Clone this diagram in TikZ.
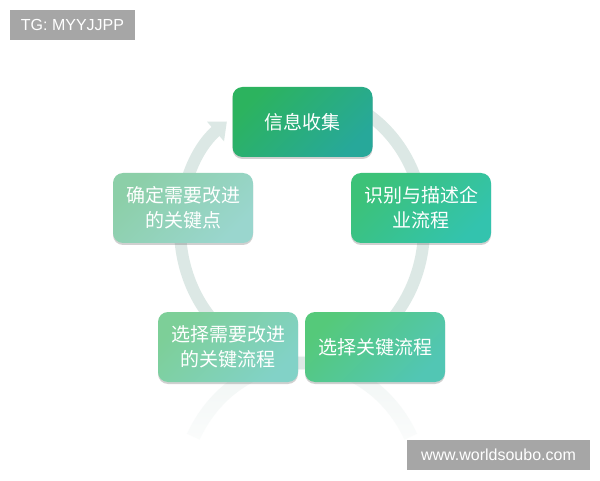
\documentclass[tikz,border=0pt]{standalone}
\usepackage{fontspec}
\setmainfont{Liberation Sans}
\newfontfamily\cjk{Noto Sans CJK SC}
\usetikzlibrary{arrows.meta,shadows,fadings}
\definecolor{ringc}{HTML}{DCE8E5}
\definecolor{wmgray}{HTML}{A6A6A6}
\definecolor{aA}{HTML}{2CB35E}\definecolor{aB}{HTML}{27A89A}
\definecolor{bA}{HTML}{3CC278}\definecolor{bB}{HTML}{33C3AE}
\definecolor{cA}{HTML}{55C97A}\definecolor{cB}{HTML}{52C6B4}
\definecolor{dA}{HTML}{7DCF98}\definecolor{dB}{HTML}{82D2C7}
\definecolor{eA}{HTML}{8CCFA8}\definecolor{eB}{HTML}{9AD6CE}
\tikzfading[name=reflfade, top color=transparent!50, bottom color=transparent!90]
\begin{document}
\begin{tikzpicture}[x=1pt,y=1pt,
  stepbox/.style={rounded corners=10pt, minimum width=140pt, minimum height=70pt,
    inner sep=0pt, text=white, font=\cjk\fontsize{19}{25}\selectfont, align=center,
    drop shadow={shadow xshift=0pt, shadow yshift=-2pt, opacity=0.3, fill=black!60}},
  ring/.style={draw=ringc, line width=12pt},
  wm/.style={fill=wmgray, text=white, font=\fontsize{16}{19}\selectfont, inner sep=0pt, text depth=0pt}]
\useasboundingbox (0,0) rectangle (600,480);
\fill[white] (0,0) rectangle (600,480);

% ring
\coordinate (ringstart) at (280.8,384.9);
\draw[ring, -{Triangle[width=25pt,length=15pt]}] (ringstart)
  arc[start angle=100, end angle=-232, x radius=122, y radius=135];
% reflection
\coordinate (reflstart) at (193.3,43.3);
\draw[ring, line width=14pt, path fading=reflfade] (reflstart)
  arc[start angle=153, end angle=27, x radius=122, y radius=135];

% boxes
\node[stepbox, top color=aA, bottom color=aB, shading angle=45] (b1) at (302.5,358) {信息收集};
\node[stepbox, top color=bA, bottom color=bB, shading angle=45] (b2) at (421,272) {识别与描述企\\业流程};
\node[stepbox, top color=cA, bottom color=cB, shading angle=45] (b3) at (375,133) {选择关键流程};
\node[stepbox, top color=dA, bottom color=dB, shading angle=45] (b4) at (228,133) {选择需要改进\\的关键流程};
\node[stepbox, top color=eA, bottom color=eB, shading angle=45] (b5) at (183,272) {确定需要改进\\的关键点};

% watermarks
\node[wm, minimum width=125pt, minimum height=30pt] (tg) at (72.5,455) {TG: MYYJJPP};
\node[wm, minimum width=183pt, minimum height=30pt] (web) at (498.5,25) {www.worldsoubo.com};
\end{tikzpicture}
\end{document}
